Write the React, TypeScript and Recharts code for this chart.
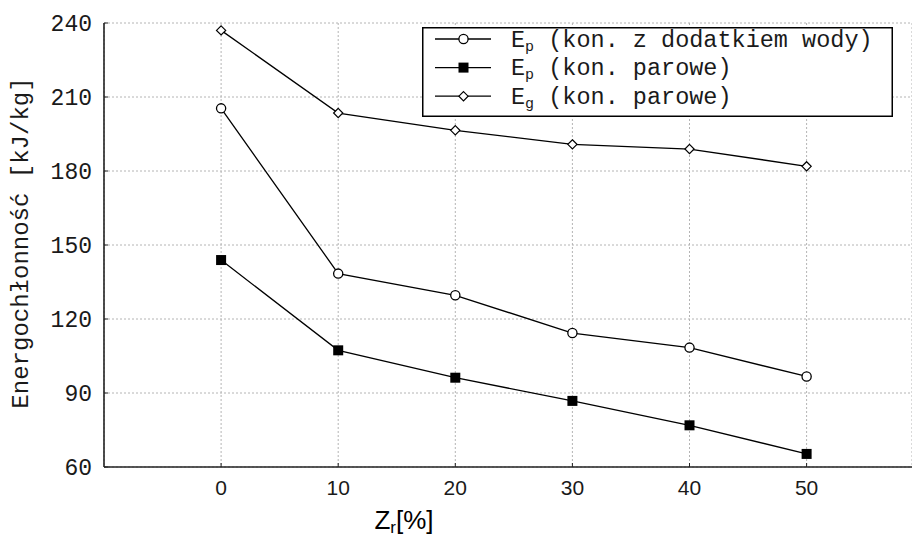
import React from 'react';
import { LineChart, Line, XAxis, YAxis, CartesianGrid, Legend } from 'recharts';

const zrValues = [0, 10, 20, 30, 40, 50];
const epWater = [205.4, 138.4, 129.6, 114.3, 108.4, 96.7];
const epSteam = [143.9, 107.3, 96.2, 86.8, 76.9, 65.3];
const egSteam = [237.0, 203.5, 196.5, 190.8, 188.9, 181.9];
const xTicks = [0, 10, 20, 30, 40, 50];
const yTicks = [60, 90, 120, 150, 180, 210, 240];

const seriesMeta = [
  { key: 'epWater', main: 'E', sub: 'p', rest: ' (kon. z dodatkiem wody)', marker: 'circle' },
  { key: 'epSteam', main: 'E', sub: 'p', rest: ' (kon. parowe)', marker: 'square' },
  { key: 'egSteam', main: 'E', sub: 'g', rest: ' (kon. parowe)', marker: 'diamond' },
];

const data = zrValues.map((z, i) => ({
  zr: z,
  epWater: epWater[i],
  epSteam: epSteam[i],
  egSteam: egSteam[i],
}));

const MONO = "'Liberation Mono', 'DejaVu Sans Mono', monospace";
const NARROW = "'Liberation Sans Narrow', 'Liberation Sans', Arial, sans-serif";

function drawMarker(kind: string, cx: number, cy: number, key?: any) {
  if (kind === 'circle') {
    return <circle key={key} cx={cx} cy={cy} r={4.6} fill="#fff" stroke="#000" strokeWidth={1.3} />;
  }
  if (kind === 'square') {
    return <rect key={key} x={cx - 5} y={cy - 5} width={10} height={10} fill="#000" stroke="none" />;
  }
  return (
    <polygon
      key={key}
      points={`${cx},${cy - 4.6} ${cx + 4.6},${cy} ${cx},${cy + 4.6} ${cx - 4.6},${cy}`}
      fill="#fff"
      stroke="#000"
      strokeWidth={1.2}
    />
  );
}

const makeDot = (kind: string) => (props: any) => {
  const { cx, cy, index } = props;
  if (cx == null || cy == null) return <g key={`d-${kind}-${index}`} />;
  return drawMarker(kind, cx, cy, `d-${kind}-${index}`);
};

const LegendBox = () => {
  const w = 471;
  const h = 90;
  return (
    <svg width={w} height={h} style={{ display: 'block', background: '#fff' }}>
      <rect x={0.75} y={0.75} width={w - 1.5} height={h - 1.5} fill="#fff" stroke="#000" strokeWidth={1.5} />
      {seriesMeta.map((s, i) => {
        const cy = 12 + i * 28.6;
        return (
          <g key={s.key}>
            <line x1={13} x2={69} y1={cy} y2={cy} stroke="#000" strokeWidth={1.3} />
            {drawMarker(s.marker, 41.5, cy)}
            <text x={89} y={cy + 7.5} fontFamily={MONO} fontSize={23.5} fill="#1a1a1a">
              <tspan>{s.main}</tspan>
              <tspan fontSize={15} dy={4}>{s.sub}</tspan>
              <tspan dy={-4}>{s.rest}</tspan>
            </text>
          </g>
        );
      })}
    </svg>
  );
};

const YLabel = (props: any) => {
  const vb = props.viewBox || { x: 0, y: 23, width: 104, height: 444 };
  const cx = vb.x + 21;
  const cy = vb.y + vb.height / 2 - 2;
  return (
    <text
      x={cx}
      y={cy}
      transform={`rotate(-90, ${cx}, ${cy})`}
      textAnchor="middle"
      dominantBaseline="central"
      fontFamily={MONO}
      fontSize={24}
      fill="#1a1a1a"
    >
      Energochłonność [kJ/kg]
    </text>
  );
};

const XLabel = (props: any) => {
  const vb = props.viewBox || { x: 104, y: 467, width: 808, height: 70 };
  const cx = vb.x + vb.width / 2 - 104;
  const y = vb.y + 62;
  return (
    <text x={cx} y={y} textAnchor="middle" fontFamily={NARROW} fontSize={26} fill="#000">
      <tspan>Z</tspan>
      <tspan fontSize={17} dy={4}>r</tspan>
      <tspan dy={-4}>[%]</tspan>
    </text>
  );
};

export default function App() {
  return (
    <div style={{ position: 'absolute', left: 0, top: 0, width: 912, height: 537, background: '#fff' }}>
      <LineChart
        width={912}
        height={537}
        data={data}
        margin={{ top: 23, right: 0, bottom: 0, left: 0 }}
      >
        <CartesianGrid stroke="#b4b4b4" strokeDasharray="2 2" strokeWidth={1} />
        <XAxis
          dataKey="zr"
          type="number"
          domain={[-10, 59]}
          ticks={xTicks}
          allowDataOverflow
          height={70}
          tickSize={-4}
          tickMargin={17}
          stroke="#222"
          axisLine={{ stroke: '#222', strokeWidth: 1.6 }}
          tickLine={{ stroke: '#222', strokeWidth: 1 }}
          tick={{ fontFamily: NARROW, fontSize: 21, fill: '#1a1a1a' }}
          label={<XLabel />}
        />
        <XAxis
          xAxisId="top"
          dataKey="zr"
          type="number"
          orientation="top"
          domain={[-10, 59]}
          ticks={xTicks}
          allowDataOverflow
          height={0}
          tickSize={-4}
          stroke="#222"
          axisLine={{ stroke: '#222', strokeWidth: 1.6 }}
          tickLine={{ stroke: '#222', strokeWidth: 1 }}
          tickFormatter={() => ''}
        />
        <YAxis
          type="number"
          domain={[60, 240]}
          ticks={yTicks}
          allowDataOverflow
          width={104}
          tickSize={-4}
          tickMargin={16}
          stroke="#222"
          axisLine={{ stroke: '#222', strokeWidth: 1.6 }}
          tickLine={{ stroke: '#222', strokeWidth: 1 }}
          tick={{ fontFamily: MONO, fontSize: 23, fill: '#1a1a1a' }}
          label={<YLabel />}
        />
        <Legend
          layout="horizontal"
          verticalAlign="middle"
          align="center"
          content={() => <LegendBox />}
          wrapperStyle={{ position: 'absolute', left: 422, top: 27, width: 471, height: 90 }}
        />
        <Line
          dataKey="epWater"
          name="Ep (kon. z dodatkiem wody)"
          stroke="#000"
          strokeWidth={1.3}
          dot={makeDot('circle')}
          activeDot={false}
          isAnimationActive={false}
        />
        <Line
          dataKey="epSteam"
          name="Ep (kon. parowe)"
          stroke="#000"
          strokeWidth={1.3}
          dot={makeDot('square')}
          activeDot={false}
          isAnimationActive={false}
        />
        <Line
          dataKey="egSteam"
          name="Eg (kon. parowe)"
          stroke="#000"
          strokeWidth={1.3}
          dot={makeDot('diamond')}
          activeDot={false}
          isAnimationActive={false}
        />
      </LineChart>
    </div>
  );
}
